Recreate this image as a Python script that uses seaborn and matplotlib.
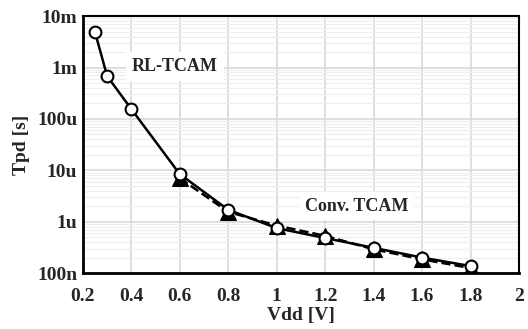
import matplotlib
matplotlib.use("Agg")
import matplotlib.pyplot as plt
import seaborn as sns
import pandas as pd
import numpy as np
from matplotlib.ticker import FixedLocator, LogLocator, NullFormatter

sns.set_theme(style="white")
plt.rcParams['font.family'] = ['Liberation Serif', 'DejaVu Serif']
plt.rcParams['font.weight'] = 'bold'

rl_vdd = [0.25, 0.3, 0.4, 0.6, 0.8, 1.0, 1.2, 1.4, 1.6, 1.8]
rl_tpd = [4.9e-3, 6.8e-4, 1.55e-4, 8.4e-6, 1.7e-6, 7.5e-7, 4.8e-7, 3.1e-7, 2.0e-7, 1.37e-7]
conv_vdd = [0.6, 0.8, 1.0, 1.2, 1.4, 1.6, 1.8]
conv_tpd = [7.0e-6, 1.55e-6, 8.4e-7, 5.3e-7, 2.9e-7, 1.85e-7, 1.25e-7]

x_ticks = [0.2, 0.4, 0.6, 0.8, 1.0, 1.2, 1.4, 1.6, 1.8, 2.0]
x_labels = ["0.2", "0.4", "0.6", "0.8", "1", "1.2", "1.4", "1.6", "1.8", "2"]
y_ticks = [1e-7, 1e-6, 1e-5, 1e-4, 1e-3, 1e-2]
y_labels = ["100n", "1u", "10u", "100u", "1m", "10m"]

df_rl = pd.DataFrame({"Vdd": rl_vdd, "Tpd": rl_tpd})
df_conv = pd.DataFrame({"Vdd": conv_vdd, "Tpd": conv_tpd})

fig, ax = plt.subplots(figsize=(5.28, 3.29), dpi=100)
fig.subplots_adjust(left=0.157, right=0.983, top=0.951, bottom=0.17)

ax.set_yscale("log")
ax.set_xlim(0.2, 2.0)
ax.set_ylim(1e-7, 1e-2)

ax.yaxis.set_minor_locator(LogLocator(base=10, subs=np.arange(2, 10)))
ax.yaxis.set_minor_formatter(NullFormatter())
ax.grid(True, which="major", color="#d9d9d9", linewidth=1.2)
ax.grid(True, which="minor", axis="y", color="#eeeeee", linewidth=0.8)
ax.set_axisbelow(True)

sns.lineplot(data=df_conv, x="Vdd", y="Tpd", ax=ax, color="black", linestyle="--",
             linewidth=1.8, marker="^", markersize=11, markerfacecolor="black",
             markeredgecolor="black", zorder=3)
sns.lineplot(data=df_rl, x="Vdd", y="Tpd", ax=ax, color="black", linestyle="-",
             linewidth=1.8, marker="o", markersize=8.5, markerfacecolor="white",
             markeredgecolor="black", markeredgewidth=1.5, zorder=4)

ax.set_xticks(x_ticks)
ax.set_xticklabels(x_labels)
ax.yaxis.set_major_locator(FixedLocator(y_ticks))
ax.set_yticklabels(y_labels)
ax.tick_params(axis="x", labelsize=14, length=0, pad=11)
ax.tick_params(axis="y", labelsize=14, length=0, pad=4)
for lab in ax.get_xticklabels() + ax.get_yticklabels():
    lab.set_fontweight("bold")

ax.set_xlabel("Vdd [V]", fontsize=14, fontweight="bold", labelpad=1)
ax.set_ylabel("Tpd [s]", fontsize=14, fontweight="bold", labelpad=5)

for s in ax.spines.values():
    s.set_color("black")
    s.set_linewidth(1.5)
ax.spines["left"].set_linewidth(2)
ax.spines["bottom"].set_linewidth(2)

ax.text(0.58, 1.05e-3, "RL-TCAM", fontsize=13, fontweight="bold", ha="center", va="center",
        bbox=dict(facecolor="white", edgecolor="none", pad=4), zorder=5)
ax.text(1.332, 2.0e-6, "Conv. TCAM", fontsize=13, fontweight="bold", ha="center", va="center",
        bbox=dict(facecolor="white", edgecolor="none", pad=4), zorder=5)

legend = ax.get_legend()
if legend:
    legend.remove()

fig.savefig("out.png", dpi=100)
